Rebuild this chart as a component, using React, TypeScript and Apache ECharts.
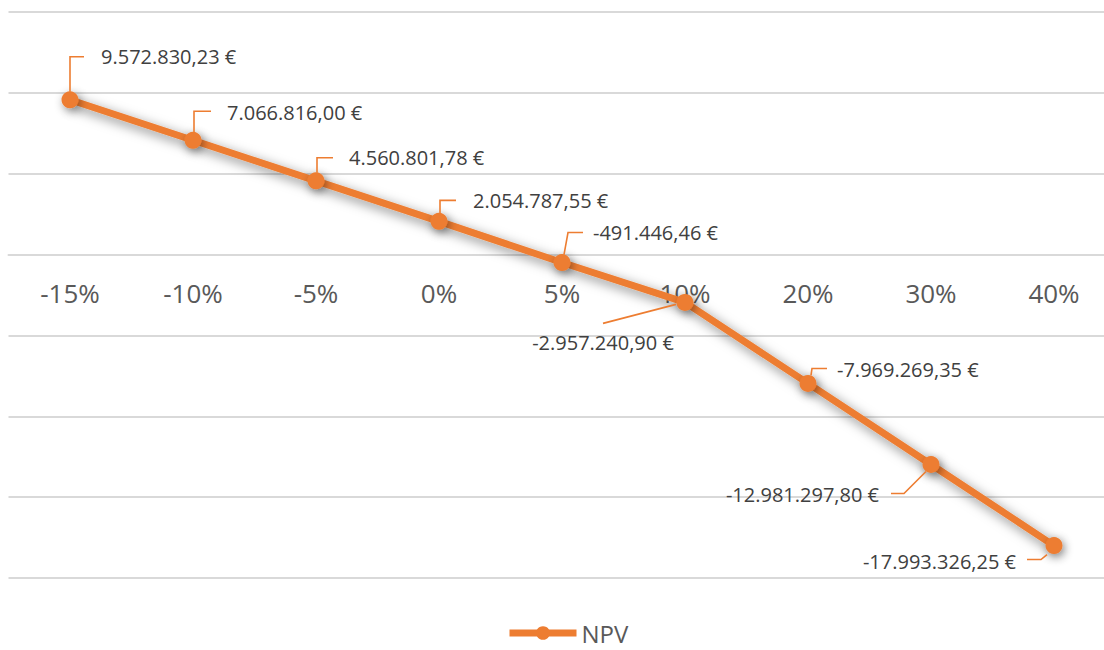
import React, { useEffect, useRef } from "react";
import * as echarts from "echarts";

const categories = ["-15%", "-10%", "-5%", "0%", "5%", "10%", "20%", "30%", "40%"];
const npvValues = [
  9572830.23, 7066816.0, 4560801.78, 2054787.55, -491446.46, -2957240.9, -7969269.35, -12981297.8,
  -17993326.25,
];
const seriesName = "NPV";
const yMin = -20000000;
const yMax = 15000000;
const yStep = 5000000;

// leader line offsets relative to the point, and text anchor offsets (layout only)
const leaderLayout: { pts: number[][]; tx: number; ty: number; align: string }[] = [
  { pts: [[0, -8], [0, -43], [14, -43]], tx: 31, ty: -43, align: "left" },
  { pts: [[1, -8], [1, -29], [18, -29]], tx: 34, ty: -28, align: "left" },
  { pts: [[1, -8], [1, -23], [17, -23]], tx: 33, ty: -23, align: "left" },
  { pts: [[1, -8], [1, -21], [17, -21]], tx: 34, ty: -21, align: "left" },
  { pts: [[2, -8], [6, -30], [21, -30]], tx: 31, ty: -30, align: "left" },
  { pts: [[-9, 2], [-82, 21]], tx: -82, ty: 40, align: "center" },
  { pts: [[3, -8], [4, -15], [19, -15]], tx: 29, ty: -14, align: "left" },
  { pts: [[-5, 7], [-27, 29], [-40, 29]], tx: -52, ty: 30, align: "right" },
  { pts: [[-7, 9], [-13, 14], [-27, 14]], tx: -38, ty: 16, align: "right" },
];

function formatEuro(v: number): string {
  const neg = v < 0;
  const abs = Math.abs(v);
  const fixed = abs.toFixed(2);
  const [intPart, dec] = fixed.split(".");
  const withDots = intPart.replace(/\B(?=(\d{3})+(?!\d))/g, ".");
  return (neg ? "-" : "") + withDots + "," + dec + " €";
}

const ORANGE = "#ED7D31";
const FONT = "'Open Sans', 'Noto Sans', sans-serif";
const GRID_TOP = 12;
const GRID_HEIGHT = 566;

export default function App() {
  const ref = useRef<HTMLDivElement>(null);
  useEffect(() => {
    if (!ref.current) return;
    const chart = echarts.init(ref.current, undefined, { renderer: "svg" });
    // move the category axis up to the value 0 line
    const zeroOffset = -((0 - yMin) / (yMax - yMin)) * GRID_HEIGHT;
    chart.setOption({
      animation: false,
      backgroundColor: "#ffffff",
      grid: {
        left: 8.5,
        top: GRID_TOP,
        width: 1107,
        height: GRID_HEIGHT,
        containLabel: false,
        outerBoundsMode: "none",
      },
      legend: {
        data: [seriesName],
        left: 506,
        top: 621,
        padding: 0,
        itemWidth: 67,
        itemHeight: 17,
        itemGap: 10,
        lineStyle: { width: 7 },
        textStyle: { fontFamily: FONT, fontSize: 24, lineHeight: 22, color: "#595959" },
      },
      xAxis: {
        type: "category",
        data: categories,
        boundaryGap: true,
        position: "bottom",
        offset: zeroOffset,
        axisLine: { show: true, onZero: false, lineStyle: { color: "#d9d9d9", width: 2 } },
        axisTick: { show: false },
        axisLabel: { fontFamily: FONT, fontSize: 26, color: "#595959", margin: 25 },
        splitLine: { show: false },
      },
      yAxis: {
        type: "value",
        min: yMin,
        max: yMax,
        interval: yStep,
        axisLine: { show: false },
        axisTick: { show: false },
        axisLabel: { show: false },
        splitLine: { show: true, lineStyle: { color: "#d9d9d9", width: 2 } },
      },
      series: [
        {
          name: seriesName,
          type: "line",
          data: npvValues,
          symbol: "circle",
          symbolSize: 17,
          z: 3,
          lineStyle: {
            color: ORANGE,
            width: 7,
            shadowColor: "rgba(0,0,0,0.5)",
            shadowBlur: 12,
            shadowOffsetX: 3,
            shadowOffsetY: 4,
          },
          itemStyle: {
            color: ORANGE,
            borderWidth: 0,
            shadowColor: "rgba(0,0,0,0.45)",
            shadowBlur: 10,
            shadowOffsetX: 2,
            shadowOffsetY: 3,
          },
        },
        {
          name: "labels",
          type: "custom",
          z: 4,
          silent: true,
          data: npvValues.map((v, i) => [i, v]),
          renderItem: (params: any, api: any) => {
            const idx = params.dataIndex;
            const v = api.value(1);
            const p = api.coord([api.value(0), v]);
            const L = leaderLayout[idx];
            return {
              type: "group",
              children: [
                {
                  type: "polyline",
                  shape: { points: L.pts.map(([dx, dy]) => [p[0] + dx, p[1] + dy]) },
                  style: { stroke: ORANGE, lineWidth: 1.6, fill: null },
                },
                {
                  type: "text",
                  x: p[0] + L.tx,
                  y: p[1] + L.ty,
                  style: {
                    text: formatEuro(v),
                    align: L.align,
                    verticalAlign: "middle",
                    fontFamily: FONT,
                    fontSize: 20,
                    fill: "#404040",
                  },
                },
              ],
            };
          },
        },
      ],
    });
    return () => chart.dispose();
  }, []);
  return (
    <div
      ref={ref}
      style={{ position: "absolute", left: 0, top: 0, width: 1104, height: 650, overflow: "hidden" }}
    />
  );
}
